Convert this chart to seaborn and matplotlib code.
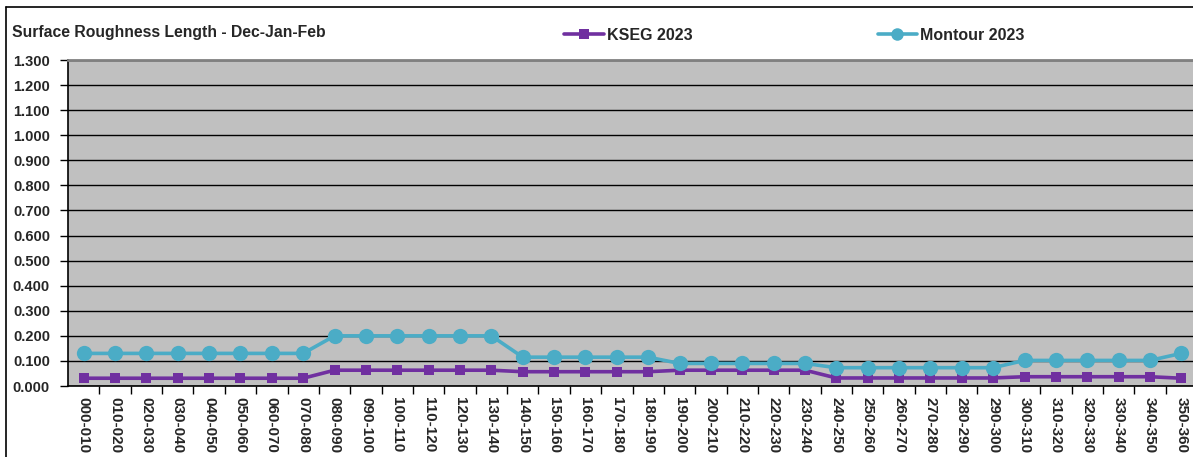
import numpy as np
import pandas as pd
import seaborn as sns
import matplotlib.pyplot as plt
from matplotlib.lines import Line2D

sectors = ['000-010', '010-020', '020-030', '030-040', '040-050', '050-060',
           '060-070', '070-080', '080-090', '090-100', '100-110', '110-120',
           '120-130', '130-140', '140-150', '150-160', '160-170', '170-180',
           '180-190', '190-200', '200-210', '210-220', '220-230', '230-240',
           '240-250', '250-260', '260-270', '270-280', '280-290', '290-300',
           '300-310', '310-320', '320-330', '330-340', '340-350', '350-360']

kseg = [0.031] * 8 + [0.063] * 6 + [0.057] * 5 + [0.063] * 5 + \
       [0.032] * 6 + [0.037] * 5 + [0.031]
montour = [0.130] * 8 + [0.200] * 6 + [0.115] * 5 + [0.090] * 5 + \
          [0.073] * 6 + [0.102] * 5 + [0.130]

df = pd.concat([
    pd.DataFrame({'sector': sectors, 'value': kseg, 'series': 'KSEG 2023'}),
    pd.DataFrame({'sector': sectors, 'value': montour, 'series': 'Montour 2023'}),
])

sns.set_style('white')
plt.rcParams['font.family'] = ['Liberation Sans', 'DejaVu Sans']
plt.rcParams['font.weight'] = 'bold'

W, H = 1193, 457
fig = plt.figure(figsize=(W / 100, H / 100), dpi=100)
ax = fig.add_axes([68 / W, (H - 386) / H, (1197 - 68) / W, (386 - 60) / H])
ax.set_facecolor('#C0C0C0')

ax.set_xticks(range(len(sectors)))
sns.lineplot(data=df, x='sector', y='value', hue='series', style='series',
             palette={'KSEG 2023': '#7030A0', 'Montour 2023': '#4BACC6'},
             markers={'KSEG 2023': 's', 'Montour 2023': 'o'},
             dashes=False, linewidth=2.6, markeredgewidth=0,
             ax=ax, legend=False)
lines = ax.get_lines()
lines[0].set_markersize(7)
lines[1].set_markersize(11)

ax.set_xlim(-0.5, len(sectors) - 0.5)
ax.set_ylim(0, 1.3)
ax.set_yticks(np.arange(0, 1.31, 0.1))
ax.set_yticklabels(['%.3f' % v for v in np.arange(0, 1.31, 0.1)],
                   fontsize=10.5, fontweight='bold')
ax.set_xticks(range(len(sectors)))
ax.set_xticklabels(sectors, rotation=270, fontsize=11, fontweight='bold')
ax.set_xticks(np.arange(0.5, len(sectors) - 1, 1), minor=True)
ax.tick_params(axis='x', which='major', length=0, pad=8)
ax.tick_params(axis='x', which='minor', length=6, width=1, color='black',
               direction='out', bottom=True)
ax.tick_params(axis='y', length=6, width=1, color='black', direction='out',
               left=True, pad=7)
ax.yaxis.grid(True, color='black', linewidth=1)
ax.set_axisbelow(True)
ax.set_xlabel('')
ax.set_ylabel('')

for s in ['left', 'bottom']:
    ax.spines[s].set_color('black')
    ax.spines[s].set_linewidth(1.2)
ax.spines['top'].set_color('#808080')
ax.spines['top'].set_linewidth(2)
ax.spines['right'].set_visible(False)

fig.text(12 / W, 1 - 33 / H, 'Surface Roughness Length - Dec-Jan-Feb',
         fontsize=11.3, fontweight='bold', va='center')

handles = [Line2D([], [], color='#7030A0', marker='s', markersize=7,
                  linewidth=2.6, markeredgewidth=0),
           Line2D([], [], color='#4BACC6', marker='o', markersize=9,
                  linewidth=2.6, markeredgewidth=0)]
fig.legend(handles, ['KSEG 2023', 'Montour 2023'], ncol=2,
           loc='center left', bbox_to_anchor=(550 / W, 1 - 35 / H),
           frameon=False, handlelength=2.45, handletextpad=0.2,
           columnspacing=11.6, prop={'size': 11.5, 'weight': 'bold'})

fig.add_artist(Line2D([6 / W, 6 / W], [0, 1 - 7 / H], color='black',
                      linewidth=1.2, transform=fig.transFigure))
fig.add_artist(Line2D([6 / W, 1], [1 - 7 / H, 1 - 7 / H], color='black',
                      linewidth=1.2, transform=fig.transFigure))

fig.savefig('out.png', dpi=100)
